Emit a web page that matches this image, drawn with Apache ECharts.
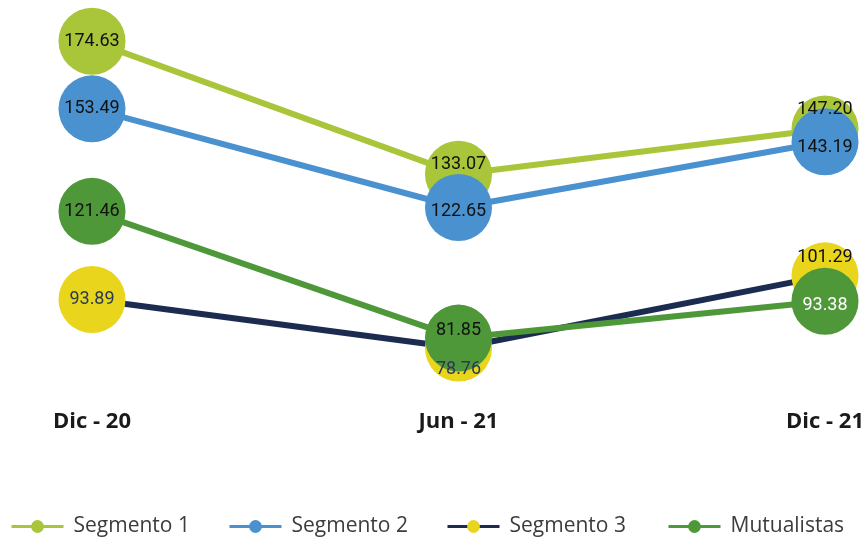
<!DOCTYPE html>
<html>
<head>
<meta charset="utf-8">
<script src="https://cdn.jsdelivr.net/npm/echarts@6/dist/echarts.min.js"></script>
<style>
  html, body { margin: 0; padding: 0; background: #ffffff; }
  #chart { width: 867px; height: 538px; }
</style>
</head>
<body>
<div id="chart"></div>
<script>
// Periods on the horizontal axis
const periods = ['Dic - 20', 'Jun - 21', 'Dic - 21'];

// Values per series
const segmento1 = [174.63, 133.07, 147.20];
const segmento2 = [153.49, 122.65, 143.19];
const segmento3 = [93.89, 78.76, 101.29];
const mutualistas = [121.46, 81.85, 93.38];

// Styling of each series (colours, label tint and nudges so stacked bubbles stay readable)
const seriesDefs = [
  { name: 'Segmento 1', values: segmento1, line: '#A9C539', marker: '#A9C539',
    labelColors: ['#111111', '#111111', '#111111'], labelOffsets: [[0, 0], [0, -10], [0, -19]] },
  { name: 'Segmento 2', values: segmento2, line: '#4A92CF', marker: '#4A92CF',
    labelColors: ['#111111', '#111111', '#111111'], labelOffsets: [[0, 0], [0, 4], [0, 6]] },
  { name: 'Segmento 3', values: segmento3, line: '#1B2C50', marker: '#E8D51C',
    labelColors: ['#2B3954', '#2B3954', '#111111'], labelOffsets: [[0, 0], [0, 22], [0, -18]] },
  { name: 'Mutualistas', values: mutualistas, line: '#4E983A', marker: '#4E983A',
    labelColors: ['#111111', '#111111', '#ffffff'], labelOffsets: [[0, 0], [0, -8], [0, 4]] }
];

const legendLefts = [5, 223, 441, 662];

const chart = echarts.init(document.getElementById('chart'), null, { renderer: 'canvas' });

const series = seriesDefs.map(d => ({
  type: 'line',
  name: d.name,
  symbol: 'circle',
  symbolSize: 67,
  showSymbol: true,
  lineStyle: { color: d.line, width: 6 },
  itemStyle: { color: d.marker },
  emphasis: { disabled: true },
  label: {
    show: true,
    position: 'inside',
    fontFamily: 'Roboto',
    fontSize: 18,
    formatter: p => Number(p.value).toFixed(2)
  },
  data: d.values.map((v, i) => ({
    value: v,
    label: { color: d.labelColors[i], offset: d.labelOffsets[i] }
  }))
}));

const legends = seriesDefs.map((d, i) => ({
  data: [d.name],
  left: legendLefts[i],
  top: 511,
  itemWidth: 52,
  itemHeight: 16,
  selectedMode: false,
  lineStyle: { width: 3 },
  textStyle: {
    fontFamily: 'Open Sans',
    fontSize: 21,
    color: '#3c3c3c',
    padding: [0, 0, 0, 5]
  }
}));

chart.setOption({
  animation: false,
  backgroundColor: '#ffffff',
  legend: legends,
  grid: { left: 92, right: 42, top: 24, bottom: 130, containLabel: false },
  xAxis: {
    type: 'category',
    data: periods,
    boundaryGap: false,
    axisLine: { show: false },
    axisTick: { show: false },
    splitLine: { show: false },
    axisLabel: {
      margin: 3,
      fontFamily: 'Open Sans',
      fontWeight: 700,
      fontSize: 22,
      color: '#1a1a1a'
    }
  },
  yAxis: {
    type: 'value',
    min: 60,
    max: 180,
    show: false,
    splitLine: { show: false }
  },
  series: series
});
</script>
</body>
</html>
